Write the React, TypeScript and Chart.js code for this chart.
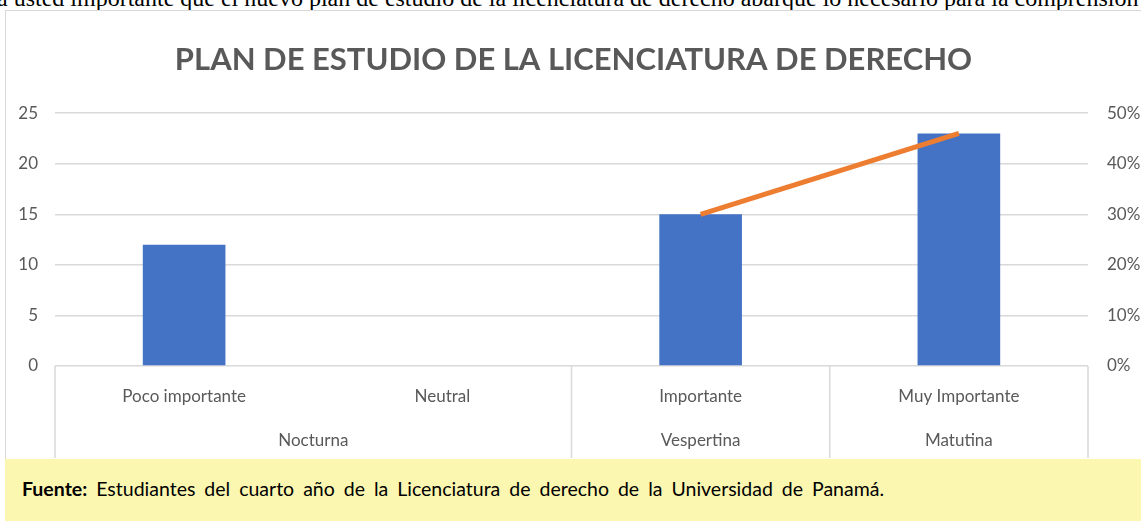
import React, { useEffect, useRef } from "react";
import { Chart, registerables } from "chart.js";

Chart.register(...registerables);

const chartTitle = "PLAN DE ESTUDIO DE LA LICENCIATURA DE DERECHO";
const categories = ["Poco importante", "Neutral", "Importante", "Muy Importante"];
const groups = ["Nocturna", "Vespertina", "Matutina"];
const groupSizes = [2, 1, 1];
const counts: (number | null)[] = [12, null, 15, 23];
const percents: (number | null)[] = [24, null, 30, 46];
const countTicks = { min: 0, max: 25, step: 5 };
const percentTicks = { min: 0, max: 50, step: 10 };
const questionText =
  "a usted importante que el nuevo plan de estudio de la licenciatura de derecho abarque lo necesario para la comprensión";
const sourceLabel = "Fuente:";
const sourceText = " Estudiantes del cuarto año de la Licenciatura de derecho de la Universidad de Panamá.";

const FONT = "Lato, 'Open Sans', sans-serif";
const GRAY = "#595959";

const groupAxisPlugin = {
  id: "groupAxis",
  afterDraw(chart: any) {
    const x = chart.scales.x;
    const ctx = chart.ctx;
    const top = chart.chartArea.bottom;
    const bottom = chart.height;
    ctx.save();
    ctx.strokeStyle = "#D9D9D9";
    ctx.lineWidth = 1.5;
    const boundaries: number[] = [x.left];
    let idx = 0;
    groupSizes.forEach((n) => {
      idx += n;
      if (idx >= categories.length) boundaries.push(x.right);
      else boundaries.push((x.getPixelForValue(idx - 1) + x.getPixelForValue(idx)) / 2);
    });
    boundaries.forEach((bx) => {
      ctx.beginPath();
      ctx.moveTo(bx, top);
      ctx.lineTo(bx, bottom);
      ctx.stroke();
    });
    ctx.fillStyle = GRAY;
    ctx.font = `17px ${FONT}`;
    ctx.textAlign = "center";
    ctx.textBaseline = "middle";
    groups.forEach((g, i) => {
      const cx = (boundaries[i] + boundaries[i + 1]) / 2;
      ctx.fillText(g, cx, top + 75);
    });
    ctx.restore();
  },
};

export default function App() {
  const ref = useRef<HTMLCanvasElement | null>(null);

  useEffect(() => {
    if (!ref.current) return;
    const chart = new Chart(ref.current, {
      type: "bar",
      data: {
        labels: categories,
        datasets: [
          {
            type: "line",
            label: "%",
            data: percents,
            yAxisID: "y1",
            borderColor: "#ED7D31",
            backgroundColor: "#ED7D31",
            borderWidth: 5,
            pointRadius: 0,
            spanGaps: false,
            order: 0,
          } as any,
          {
            type: "bar",
            label: "Cantidad",
            data: counts,
            yAxisID: "y",
            backgroundColor: "#4472C4",
            categoryPercentage: 1,
            barPercentage: 0.32,
            order: 1,
          },
        ],
      },
      options: {
        animation: false,
        responsive: false,
        layout: { padding: { left: 0, right: 0, top: 0, bottom: 0 } },
        plugins: {
          legend: { display: false },
          tooltip: { enabled: false },
          title: {
            display: true,
            text: chartTitle,
            color: GRAY,
            font: { family: FONT, size: 31, weight: "bold", lineHeight: 1.2 },
            padding: { top: 30, bottom: 35 },
          },
        },
        scales: {
          x: {
            grid: { display: false, drawTicks: false },
            border: { display: false },
            ticks: { color: GRAY, font: { family: FONT, size: 17 }, padding: 20, maxRotation: 0 },
            afterFit: (s: any) => {
              s.height = 92;
            },
          },
          y: {
            position: "left",
            min: countTicks.min,
            max: countTicks.max,
            ticks: { stepSize: countTicks.step, color: GRAY, font: { family: FONT, size: 17 }, padding: 17 },
            grid: { color: "#D9D9D9", lineWidth: 1.5, drawTicks: false },
            border: { display: false },
            afterFit: (s: any) => {
              s.width = 49;
            },
          },
          y1: {
            position: "right",
            min: percentTicks.min,
            max: percentTicks.max,
            ticks: {
              stepSize: percentTicks.step,
              color: GRAY,
              font: { family: FONT, size: 17 },
              padding: 19,
              callback: (v: any) => `${v}%`,
            },
            grid: { display: false, drawTicks: false },
            border: { display: false },
            afterFit: (s: any) => {
              s.width = 53;
            },
          },
        },
      } as any,
      plugins: [groupAxisPlugin],
    });
    return () => chart.destroy();
  }, []);

  return (
    <div
      style={{
        position: "fixed",
        left: 0,
        top: 0,
        width: 1141,
        height: 521,
        overflow: "hidden",
        background: "#fff",
      }}
    >
      <div
        style={{
          position: "absolute",
          left: -3,
          top: -14,
          whiteSpace: "nowrap",
          fontFamily: "'Liberation Serif', 'Times New Roman', serif",
          fontSize: 24,
          lineHeight: "24px",
          color: "#000",
        }}
      >
        {questionText}
      </div>
      <div
        style={{
          position: "absolute",
          left: 5,
          top: 10,
          width: 1150,
          height: 460,
          border: "1px solid #D9D9D9",
          boxSizing: "border-box",
        }}
      />
      <canvas
        ref={ref}
        width={1135}
        height={447}
        style={{ position: "absolute", left: 6, top: 11, width: 1135, height: 447 }}
      />
      <div
        style={{
          position: "absolute",
          left: 5,
          top: 459,
          width: 1136,
          height: 62,
          background: "#FBF7B1",
          fontFamily: FONT,
          fontSize: 19.5,
          lineHeight: "24px",
          color: "#000",
          boxSizing: "border-box",
          paddingLeft: 17,
          paddingTop: 18,
          wordSpacing: 4,
          whiteSpace: "nowrap",
        }}
      >
        <b>{sourceLabel}</b>
        {sourceText}
      </div>
    </div>
  );
}
